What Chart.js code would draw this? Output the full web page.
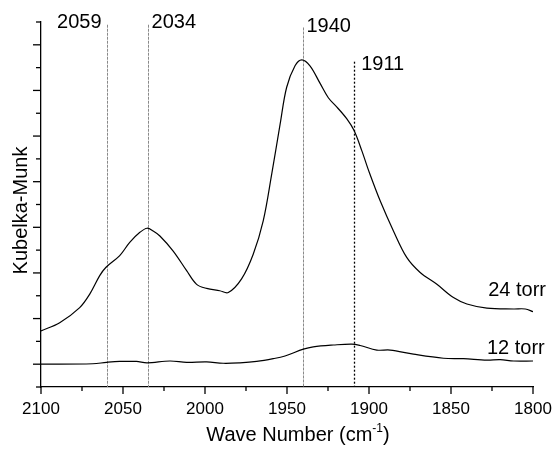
<!DOCTYPE html>
<html>
<head>
<meta charset="utf-8">
<script src="https://cdn.jsdelivr.net/npm/chart.js@4"></script>
<style>
  body { margin: 0; background: #fff; }
  #wrap { width: 553px; height: 450px; }
</style>
</head>
<body>
<div id="wrap"><canvas id="kmChart" width="553" height="450"></canvas></div>
<script>
// spectra (wavenumber in cm-1, Kubelka-Munk units)
const wave24 = [2100, 2088.6, 2076.4, 2070.2, 2064.2, 2060.5, 2052, 2045.9, 2039.7, 2035.3, 2031.6, 2027.5, 2019.4, 2011.2, 2005.1, 1999, 1991, 1985.8, 1977.7, 1970.6, 1964.5, 1959.3, 1954.2, 1950.2, 1945.1, 1941, 1936, 1929.9, 1924.8, 1919.7, 1913.6, 1909.1, 1904.4, 1899.8, 1893.2, 1885.1, 1877, 1868.8, 1858.6, 1848.5, 1840.3, 1828.1, 1811.8, 1804.7, 1800];
const km24 = [0.73, 0.91, 1.24, 1.54, 1.94, 2.12, 2.38, 2.67, 2.89, 2.98, 2.92, 2.81, 2.48, 2.05, 1.75, 1.66, 1.61, 1.57, 1.87, 2.41, 3.14, 4.17, 5.26, 6.07, 6.54, 6.67, 6.54, 6.16, 5.84, 5.64, 5.38, 5.12, 4.68, 4.20, 3.58, 2.92, 2.34, 2.01, 1.75, 1.46, 1.32, 1.23, 1.21, 1.21, 1.15];

const wave12 = [2100, 2068.4, 2060.1, 2052, 2041.8, 2035.3, 2021.4, 2011.2, 1999, 1988.9, 1978.7, 1968.5, 1958.4, 1951.2, 1940, 1934, 1921.7, 1910.5, 1905.4, 1895.2, 1887.1, 1872.9, 1854.6, 1842.4, 1828.1, 1820, 1811.8, 1800];
const km12 = [0, 0.01, 0.04, 0.06, 0.06, 0.03, 0.07, 0.04, 0.05, 0.02, 0.03, 0.06, 0.12, 0.18, 0.33, 0.38, 0.42, 0.44, 0.41, 0.31, 0.31, 0.22, 0.13, 0.12, 0.09, 0.10, 0.07, 0.07];

const seriesNames = ["24 torr", "12 torr"];

// band markers
const bandPos = [2060, 2035, 1940, 1909];
const bandLabels = ["2059", "2034", "1940", "1911"];
const bandTop = [7.44, 7.44, 7.38, 6.63];

const FONT = '"Liberation Sans", Arial, Helvetica, sans-serif';

function pts(xs, ys) {
  return xs.map((v, i) => ({ x: v, y: ys[i] }));
}

function line(ctx, x1, y1, x2, y2) {
  ctx.beginPath();
  ctx.moveTo(x1, y1);
  ctx.lineTo(x2, y2);
  ctx.stroke();
}

const decor = {
  id: 'decor',
  beforeDatasetsDraw(chart) {
    const { ctx, scales: { x, y } } = chart;
    ctx.save();
    bandPos.forEach((v, i) => {
      const px = Math.round(x.getPixelForValue(v)) + 0.5;
      const top = y.getPixelForValue(bandTop[i]);
      if (i === 3) {
        ctx.strokeStyle = '#000';
        ctx.lineWidth = 1.3;
        ctx.setLineDash([2, 2]);
      } else {
        ctx.strokeStyle = '#8a8a8a';
        ctx.lineWidth = 1;
        ctx.setLineDash([3, 1]);
      }
      line(ctx, px, top, px, y.bottom);
    });
    ctx.restore();
  },
  afterDraw(chart) {
    const { ctx, scales: { x, y } } = chart;
    ctx.save();
    ctx.strokeStyle = '#000';
    ctx.lineWidth = 1.3;
    // tick marks, outward
    x.ticks.forEach(t => {
      const px = x.getPixelForValue(t.value);
      const len = t.value % 50 === 0 ? 7 : 4;
      line(ctx, px, y.bottom, px, y.bottom + len);
    });
    y.ticks.forEach(t => {
      const py = y.getPixelForValue(t.value);
      const len = Number.isInteger(Math.round(t.value * 100) / 100) ? 8 : 5;
      line(ctx, x.left - len, py, x.left, py);
    });

    ctx.fillStyle = '#000';
    ctx.font = '20px ' + FONT;
    ctx.textBaseline = 'alphabetic';
    // band labels
    const dx = [-5, 4, 3, 7];
    const dy = [3, 3, 5, 8];
    bandPos.forEach((v, i) => {
      const px = x.getPixelForValue(v);
      const top = y.getPixelForValue(bandTop[i]);
      ctx.textAlign = dx[i] < 0 ? 'right' : 'left';
      ctx.fillText(bandLabels[i], px + dx[i], top + dy[i]);
    });
    // series labels
    ctx.textAlign = 'left';
    ctx.fillText(seriesNames[0], x.getPixelForValue(1827.3), y.getPixelForValue(1.5));
    ctx.fillText(seriesNames[1], x.getPixelForValue(1828.1), y.getPixelForValue(0.22));

    // y title
    ctx.save();
    ctx.translate(26.5, (y.top + y.bottom) / 2 + 6);
    ctx.rotate(-Math.PI / 2);
    ctx.textAlign = 'center';
    ctx.fillText('Kubelka-Munk', 0, 0);
    ctx.restore();

    // x title with superscript
    const main = 'Wave Number (cm';
    const sup = '-1';
    ctx.font = '20px ' + FONT;
    const w1 = ctx.measureText(main).width;
    const w3 = ctx.measureText(')').width;
    ctx.font = '12px ' + FONT;
    const w2 = ctx.measureText(sup).width;
    const total = w1 + w2 + w3;
    const cx = (x.left + x.right) / 2 + 11;
    let sx = cx - total / 2;
    const base = 441;
    ctx.textAlign = 'left';
    ctx.font = '20px ' + FONT;
    ctx.fillText(main, sx, base);
    ctx.font = '12px ' + FONT;
    ctx.fillText(sup, sx + w1, base - 9);
    ctx.font = '20px ' + FONT;
    ctx.fillText(')', sx + w1 + w2, base);
    ctx.restore();
  }
};

new Chart(document.getElementById('kmChart'), {
  type: 'line',
  data: {
    datasets: [
      {
        label: seriesNames[0],
        data: pts(wave24, km24),
        borderColor: '#000',
        borderWidth: 1.2,
        pointRadius: 0,
        tension: 0.35,
        fill: false
      },
      {
        label: seriesNames[1],
        data: pts(wave12, km12),
        borderColor: '#000',
        borderWidth: 1.2,
        pointRadius: 0,
        tension: 0.35,
        fill: false
      }
    ]
  },
  options: {
    responsive: false,
    animation: false,
    layout: { padding: { top: 22, right: 20, left: 0, bottom: 0 } },
    plugins: {
      legend: { display: false },
      tooltip: { enabled: false }
    },
    scales: {
      x: {
        type: 'linear',
        reverse: true,
        min: 1800,
        max: 2100,
        grid: { display: false, drawTicks: false },
        border: { display: true, color: '#000', width: 1.3 },
        ticks: {
          stepSize: 25,
          autoSkip: false,
          maxRotation: 0,
          padding: 12,
          color: '#000',
          font: { family: FONT, size: 17 },
          callback: v => (v % 50 === 0 ? String(v) : '')
        },
        afterFit: s => { s.height = 63; s.paddingLeft = 0; s.paddingRight = 0; }
      },
      y: {
        min: -0.5,
        max: 7.5,
        grid: { display: false, drawTicks: false },
        border: { display: true, color: '#000', width: 1.3 },
        ticks: { stepSize: 0.5, display: false },
        afterFit: s => { s.width = 41; }
      }
    }
  },
  plugins: [decor]
});
</script>
</body>
</html>
